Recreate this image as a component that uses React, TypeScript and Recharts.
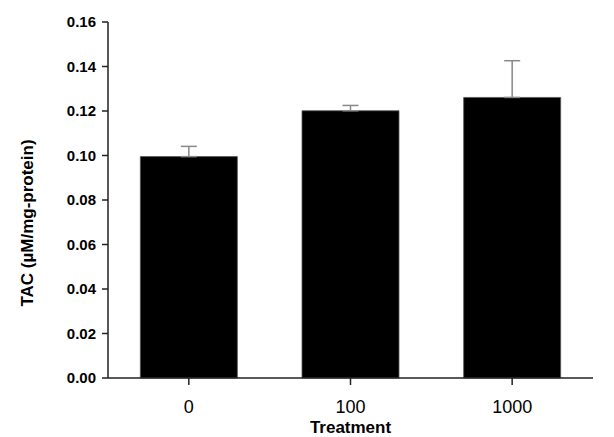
import React from "react";
import { Bar, BarChart, ErrorBar, Label, XAxis, YAxis } from "recharts";

const treatments = ["0", "100", "1000"];
const tac = [0.0995, 0.1201, 0.1261];
const tacSem = [0.0046, 0.0024, 0.0165];
const yTicks = [0, 0.02, 0.04, 0.06, 0.08, 0.1, 0.12, 0.14, 0.16];

const data = treatments.map((t, i) => ({
  treatment: t,
  tac: tac[i],
  // only the upper whisker is drawn, like the original figure
  err: [0, tacSem[i]],
}));

const FONT = '"Liberation Sans", Arial, Helvetica, sans-serif';
const AXIS = "#222";

export default function App() {
  return (
    <div style={{ position: "absolute", left: 0, top: 0, width: 614, height: 437, background: "#fff" }}>
      <BarChart
        width={614}
        height={437}
        data={data}
        margin={{ top: 22, right: 21, bottom: 0, left: 0 }}
        barCategoryGap="20%"
      >
        <XAxis
          dataKey="treatment"
          height={59}
          tickSize={7}
          tickMargin={15}
          axisLine={{ stroke: AXIS, strokeWidth: 1.5 }}
          tickLine={{ stroke: AXIS, strokeWidth: 1.5 }}
          tick={{ fill: "#000", fontSize: 18, fontFamily: FONT }}
        >
          <Label
            value="Treatment"
            position="insideBottom"
            offset={4}
            style={{ fill: "#000", fontSize: 17, fontWeight: 700, fontFamily: FONT }}
          />
        </XAxis>
        <YAxis
          width={108}
          domain={[0, 0.16]}
          ticks={yTicks}
          interval={0}
          tickFormatter={(v: number) => v.toFixed(2)}
          tickSize={6}
          tickMargin={6}
          axisLine={{ stroke: AXIS, strokeWidth: 1.5 }}
          tickLine={{ stroke: AXIS, strokeWidth: 1.5 }}
          tick={{ fill: "#000", fontSize: 15, fontWeight: 700, fontFamily: FONT }}
        >
          <Label
            content={() => (
              <text
                x={27}
                y={223}
                transform="rotate(-90 27 223)"
                textAnchor="middle"
                dominantBaseline="central"
                style={{ fill: "#000", fontSize: 17, fontWeight: 700, fontFamily: FONT }}
              >
                TAC (µM/mg-protein)
              </text>
            )}
          />
        </YAxis>
        <Bar dataKey="tac" fill="#000" stroke="#555" strokeWidth={0.8} isAnimationActive={false}>
          <ErrorBar dataKey="err" direction="y" width={8} stroke="#888" strokeWidth={1.5} />
        </Bar>
      </BarChart>
    </div>
  );
}
